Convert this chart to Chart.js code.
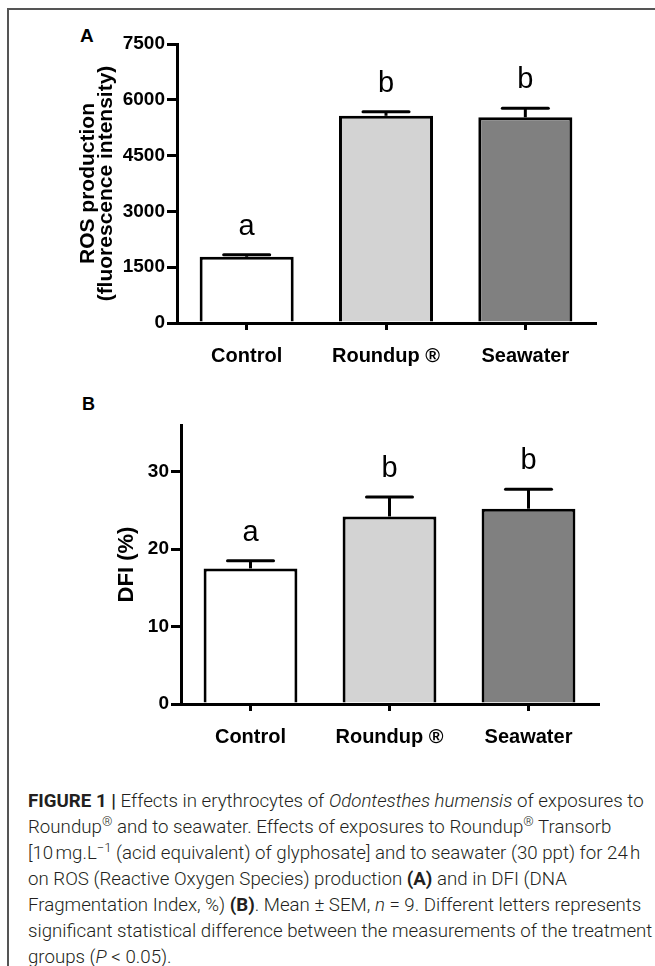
<!DOCTYPE html>
<html>
<head>
<meta charset="utf-8">
<script src="https://cdn.jsdelivr.net/npm/chart.js@4/dist/chart.umd.min.js"></script>
<style>
  body { margin: 0; background: #fff; }
  #fig { position: relative; width: 655px; height: 966px; overflow: hidden; background: #fff; }
  .frame { position: absolute; left: 7px; top: 8px; right: -4px; bottom: -4px;
           border-top: 2px solid #555; border-left: 2px solid #555; }
  .panel { position: absolute; left: 0; width: 655px; height: 380px; }
  .tag { position: absolute; font: bold 19px "Liberation Sans", Arial, sans-serif; line-height: 19px; color: #000; }
  .caption { position: absolute; left: 28px; top: 788px; width: 640px;
             font-family: Roboto, "Noto Sans", sans-serif; font-weight: 300; font-size: 18.7px;
             line-height: 26px; color: #231f20; white-space: nowrap; }
  .caption b { font-weight: 700; }
  .caption sup { font-size: 0.7em; line-height: 0; vertical-align: 0.55em; }
</style>
</head>
<body>
<div id="fig">
  <div class="frame"></div>
  <div class="tag" style="left:80px;top:26px">A</div>
  <div class="tag" style="left:82px;top:395px;font-size:18px">B</div>
  <div class="panel" style="top:0"><canvas id="rosChart" width="655" height="380"></canvas></div>
  <div class="panel" style="top:380px"><canvas id="dfiChart" width="655" height="380"></canvas></div>
  <div class="caption">
    <div><b>FIGURE 1 |</b> Effects in erythrocytes of <i>Odontesthes humensis</i> of exposures to</div>
    <div>Roundup<sup>®</sup> and to seawater. Effects of exposures to Roundup<sup>®</sup> Transorb</div>
    <div>[10&#8239;mg.L<sup>−1</sup> (acid equivalent) of glyphosate] and to seawater (30 ppt) for 24&#8239;h</div>
    <div>on ROS (Reactive Oxygen Species) production <b>(A)</b> and in DFI (DNA</div>
    <div>Fragmentation Index, %) <b>(B)</b>. Mean ± SEM, <i>n</i> = 9. Different letters represents</div>
    <div>significant statistical difference between the measurements of the treatment</div>
    <div>groups (<i>P</i> &lt; 0.05).</div>
  </div>
</div>
<script>
const groups = ["Control", "Roundup \u00ae", "Seawater"];
const rosMean = [1780, 5570, 5530];
const rosSem = [55, 110, 240];
const dfiMean = [17.5, 24.2, 25.2];
const dfiSem = [1.0, 2.5, 2.5];
const sigLetters = ["a", "b", "b"];

const barFills = ["#ffffff", "#d3d3d3", "#808080"];
const FONT = "'Liberation Sans', Arial, sans-serif";

// SEM whiskers (upward only) and significance letters above each bar
const errorBars = {
  id: "errorBars",
  afterDatasetsDraw(chart, args, opts) {
    const { ctx } = chart;
    const y = chart.scales.y;
    const meta = chart.getDatasetMeta(0);
    ctx.save();
    ctx.strokeStyle = "#000";
    ctx.lineWidth = 3;
    meta.data.forEach((bar, i) => {
      const top = y.getPixelForValue(opts.mean[i] + opts.sem[i]);
      ctx.lineCap = "butt";
      ctx.beginPath();
      ctx.moveTo(bar.x, bar.y);
      ctx.lineTo(bar.x, top);
      ctx.stroke();
      ctx.lineCap = "round";
      ctx.beginPath();
      ctx.moveTo(bar.x - 23, top);
      ctx.lineTo(bar.x + 23, top);
      ctx.stroke();
      ctx.fillStyle = "#000";
      ctx.font = "29px " + FONT;
      ctx.textAlign = "center";
      ctx.textBaseline = "alphabetic";
      ctx.fillText(opts.letters[i], bar.x, top - 20);
    });
    ctx.restore();
  }
};

function makeChart(id, mean, sem, yOpts, title, box) {
  return new Chart(document.getElementById(id), {
    type: "bar",
    data: {
      labels: groups,
      datasets: [{
        data: mean,
        backgroundColor: barFills,
        borderColor: "#000",
        borderWidth: 3,
        barPercentage: 0.675,
        categoryPercentage: 1
      }]
    },
    plugins: [errorBars],
    options: {
      responsive: false,
      animation: false,
      layout: { padding: { left: 0, top: box.top, right: box.right, bottom: 0 } },
      plugins: {
        legend: { display: false },
        tooltip: { enabled: false },
        errorBars: { mean: mean, sem: sem, letters: sigLetters }
      },
      scales: {
        x: {
          grid: { display: true, offset: false, drawOnChartArea: false, drawTicks: true,
                  tickLength: 7, color: "#000", lineWidth: 3 },
          border: { display: true, color: "#000", width: 3 },
          ticks: { color: "#000", padding: 14, font: { family: FONT, size: 20, weight: "bold" } },
          afterFit: s => { s.height = box.xh; }
        },
        y: Object.assign({
          min: 0,
          grid: { display: true, drawOnChartArea: false, drawTicks: true,
                  tickLength: 10, color: "#000", lineWidth: 3 },
          border: { display: true, color: "#000", width: 3 },
          title: { display: true, text: title, color: "#000",
                   padding: { top: box.tp, bottom: 0 },
                   font: { family: FONT, size: box.ts, weight: "bold", lineHeight: box.lh } },
          afterFit: s => { s.width = box.yw; }
        }, yOpts)
      }
    }
  });
}

const tickFont = { family: FONT, size: 19, weight: "bold" };

makeChart("rosChart", rosMean, rosSem,
  { max: 7500, ticks: { stepSize: 1500, color: "#000", padding: 2, font: tickFont,
                        callback: v => String(v) } },
  ["ROS production", "(fluorescence intensity)"],
  { top: 44, right: 60, xh: 57, yw: 177, tp: 79, ts: 21, lh: 18 / 21 });

makeChart("dfiChart", dfiMean, dfiSem,
  { max: 36, ticks: { stepSize: 10, includeBounds: false, color: "#000", padding: 2, font: tickFont,
                      callback: v => String(v) } },
  "DFI (%)",
  { top: 45, right: 57, xh: 56, yw: 181, tp: 116, ts: 22, lh: 1 });
</script>
</body>
</html>
